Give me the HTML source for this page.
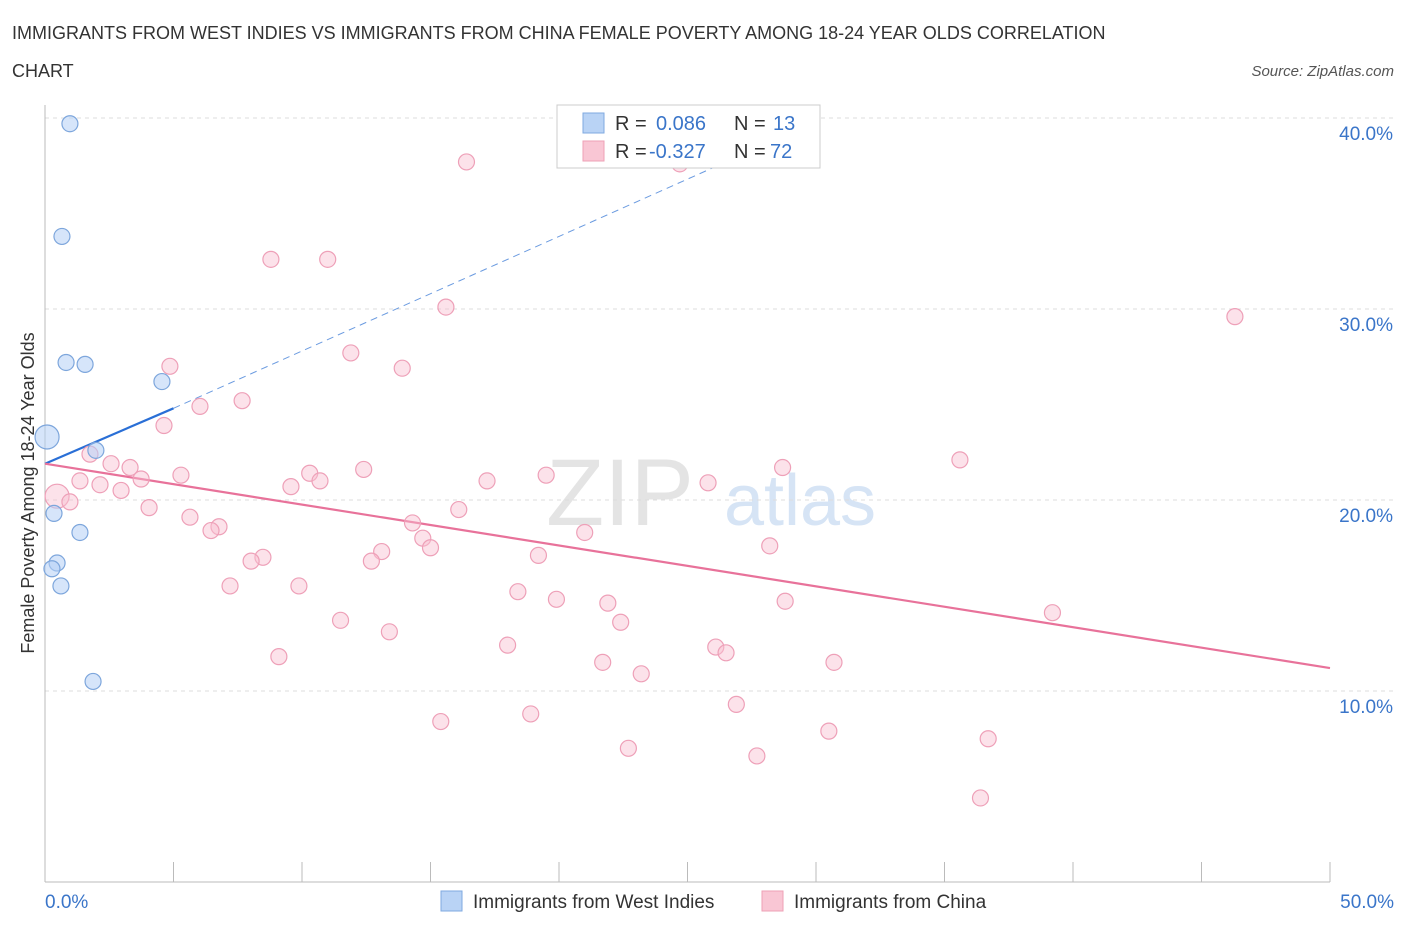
<!DOCTYPE html>
<html><head><meta charset="utf-8">
<style>
body{margin:0;background:#fff;font-family:"Liberation Sans",sans-serif;}
svg text{font-family:"Liberation Sans",sans-serif;}
</style></head>
<body>
<svg id="chart" width="1406" height="930">
<text x="12" y="39" font-size="18" fill="#333">IMMIGRANTS FROM WEST INDIES VS IMMIGRANTS FROM CHINA FEMALE POVERTY AMONG 18-24 YEAR OLDS CORRELATION</text>
<text x="12" y="77" font-size="18" fill="#333">CHART</text>
<text x="1394" y="76" font-size="15" fill="#555" font-style="italic" text-anchor="end">Source: ZipAtlas.com</text>
<text x="620" y="525" font-size="95" fill="#e4e4e4" font-family="Liberation Serif" text-anchor="middle">ZIP</text>
<text x="800" y="525" font-size="72" fill="#d6e4f5" text-anchor="middle">atlas</text>
<g id="grid"></g>
<g id="axes"></g>
<g id="trends"></g>
<g id="pts"></g>
<text transform="translate(34,493) rotate(-90)" font-size="18" fill="#333" text-anchor="middle">Female Poverty Among 18-24 Year Olds</text>
<g>
<rect x="557" y="105" width="263" height="63" fill="#fff" stroke="#ccc"/>
<rect x="583" y="113" width="21" height="20" fill="#b9d3f5" stroke="#7fa9e0"/>
<rect x="583" y="141" width="21" height="20" fill="#f9c6d4" stroke="#eea0b6"/>
<text x="615" y="130" font-size="20" fill="#333">R = </text><text x="656" y="130" font-size="20" fill="#3a75c9">0.086</text>
<text x="734" y="130" font-size="20" fill="#333">N = </text><text x="773" y="130" font-size="20" fill="#3a75c9">13</text>
<text x="615" y="158" font-size="20" fill="#333">R = </text><text x="649" y="158" font-size="20" fill="#3a75c9">-0.327</text>
<text x="734" y="158" font-size="20" fill="#333">N = </text><text x="770" y="158" font-size="20" fill="#3a75c9">72</text>
</g>
<g>
<rect x="441" y="891" width="21" height="20" fill="#b9d3f5" stroke="#7fa9e0"/>
<text x="473" y="908" font-size="19" fill="#333">Immigrants from West Indies</text>
<rect x="762" y="891" width="21" height="20" fill="#f9c6d4" stroke="#eea0b6"/>
<text x="794" y="908" font-size="19" fill="#333">Immigrants from China</text>
</g>
</svg>
<script>
const NS="http://www.w3.org/2000/svg";
const yTicks=[10,20,30,40];
const yTickLabels=["10.0%","20.0%","30.0%","40.0%"];
const xTickLabels=["0.0%","50.0%"];
const wiX=[0.97,0.66,0.82,1.56,4.55,0.08,1.98,0.35,1.36,0.47,0.27,0.62,1.87];
const wiY=[39.7,33.8,27.2,27.1,26.2,23.3,22.6,19.3,18.3,16.7,16.4,15.5,10.5];
const wiR=[8,8,8,8,8,12,8,8,8,8,8,8,8];
const chX=[16.4,8.79,11.0,15.6,46.3,11.9,4.86,13.9,7.67,6.03,4.63,1.75,35.6,2.57,3.31,28.7,10.3,12.4,5.29,19.5,3.74,1.36,2.14,17.2,10.7,9.57,25.8,2.96,0.47,0.97,4.05,16.1,5.64,14.3,6.77,6.46,21.0,14.7,15.0,28.2,13.1,19.2,8.48,8.02,12.7,7.2,9.88,18.4,19.9,21.9,28.8,39.2,11.5,22.4,13.4,18.0,26.1,26.5,9.1,21.7,30.7,23.2,26.9,18.9,15.4,30.5,36.7,22.7,27.7,36.4,24.7];
const chY=[37.7,32.6,32.6,30.1,29.6,27.7,27.0,26.9,25.2,24.9,23.9,22.4,22.1,21.9,21.7,21.7,21.4,21.6,21.3,21.3,21.1,21.0,20.8,21.0,21.0,20.7,20.9,20.5,20.2,19.9,19.6,19.5,19.1,18.8,18.6,18.4,18.3,18.0,17.5,17.6,17.3,17.1,17.0,16.8,16.8,15.5,15.5,15.2,14.8,14.6,14.7,14.1,13.7,13.6,13.1,12.4,12.3,12.0,11.8,11.5,11.5,10.9,9.3,8.8,8.4,7.9,7.5,7.0,6.6,4.4,37.6];
const wiTrend=[0,21.9,5,24.8,30,39.8];
const chTrend=[0,21.9,50,11.2];
const X=v=>45+v*25.7, Y=v=>882-v*19.1;
function mk(t,a,p){const e=document.createElementNS(NS,t);for(const k in a)e.setAttribute(k,a[k]);p.appendChild(e);return e;}
const grid=document.getElementById('grid'),axes=document.getElementById('axes'),tr=document.getElementById('trends'),pts=document.getElementById('pts');
yTicks.forEach((v,i)=>{
 const l=mk('line',{x1:45,x2:1394,y1:Y(v),y2:Y(v),stroke:'#ddd','stroke-dasharray':'4,4'},grid);
 
 
 const t=mk('text',{x:1393,y:Y(v)+22,'font-size':19,fill:'#3a75c9','text-anchor':'end'},axes);t.textContent=yTickLabels[i];
 
 
});
mk('line',{x1:45,x2:45,y1:105,y2:882,stroke:'#bbb'},axes);
mk('line',{x1:45,x2:1330,y1:882,y2:882,stroke:'#bbb'},axes);
for(let i=0;i<=10;i++){const t=mk('line',{x1:X(i*5),x2:X(i*5),y1:862,y2:882,stroke:'#bbb'},axes);
 
 }
[[0,'start',45],[50,'end',1394]].forEach((d,i)=>{const t=mk('text',{x:d[2],y:908,'font-size':19,fill:'#3a75c9','text-anchor':d[1]},axes);t.textContent=xTickLabels[i];
 
 });
let b=mk('line',{x1:X(wiTrend[0]),y1:Y(wiTrend[1]),x2:X(wiTrend[2]),y2:Y(wiTrend[3]),stroke:'#2a6fd6','stroke-width':2.2},tr);


b=mk('line',{x1:X(wiTrend[2]),y1:Y(wiTrend[3]),x2:X(wiTrend[4]),y2:Y(wiTrend[5]),stroke:'#6b9be0','stroke-width':1,'stroke-dasharray':'7,5'},tr);


b=mk('line',{x1:X(chTrend[0]),y1:Y(chTrend[1]),x2:X(chTrend[2]),y2:Y(chTrend[3]),stroke:'#e8729a','stroke-width':2.2},tr);


chX.forEach((v,i)=>{const c=mk('circle',{cx:X(v),cy:Y(chY[i]),r:(i==28?12:8),fill:'rgba(248,190,208,0.45)',stroke:'#eea0b8','stroke-width':1.2},pts);
 
 });
wiX.forEach((v,i)=>{const c=mk('circle',{cx:X(v),cy:Y(wiY[i]),r:wiR[i],fill:'rgba(180,208,245,0.55)',stroke:'#7da6dc','stroke-width':1.2},pts);
 
 });
</script>
</body></html>
